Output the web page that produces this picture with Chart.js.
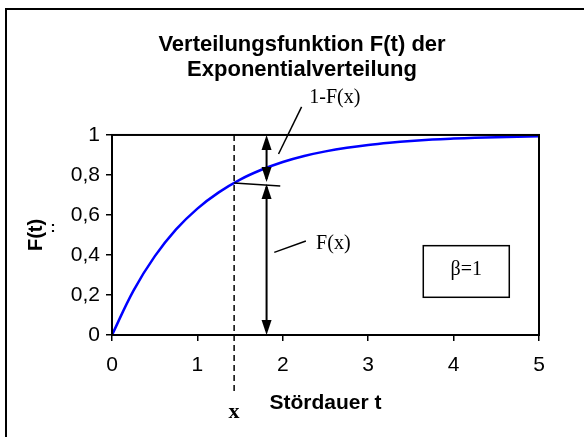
<!DOCTYPE html>
<html>
<head>
<meta charset="utf-8">
<script src="https://cdn.jsdelivr.net/npm/chart.js@4/dist/chart.umd.min.js"></script>
<style>
html,body{margin:0;padding:0;background:#fff;}
#wrap{width:584px;height:437px;}
</style>
</head>
<body>
<div id="wrap"><canvas id="c" width="584" height="437"></canvas></div>
<script>
// ---- data ----
const titleLines = ['Verteilungsfunktion F(t) der', 'Exponentialverteilung'];
const xAxisTitle = 'Stördauer t';
const yAxisTitle = 'F(t)';
const tValues = [0,0.25,0.5,0.75,1,1.25,1.5,1.75,2,2.25,2.5,2.75,3,3.25,3.5,3.75,4,4.25,4.5,4.75,5];
const fValues = [0,0.221,0.393,0.528,0.632,0.713,0.777,0.826,0.865,0.895,0.918,0.936,0.95,0.961,0.97,0.977,0.982,0.986,0.989,0.991,0.993];
const xTickLabels = ['0','1','2','3','4','5'];
const yTickLabels = ['0','0,2','0,4','0,6','0,8','1'];

// annotation values (data units)
const markX = 1.43;            // position "x"
const markF = 0.76;            // F(x)
const markLineBottom = -0.3;   // dashed line runs below the axis
const markLabelY = -0.385;
const arrowT = 1.81;           // double arrows
const tickEnd = [1.97, 0.745]; // short line from curve to the right
const upperLeader = [[2.22, 1.14], [1.95, 0.905]];
const upperLabel = {t: 2.31, f: 1.185, text: '1-F(x)'};
const lowerLeader = [[1.90, 0.413], [2.27, 0.47]];
const lowerLabel = {t: 2.39, f: 0.455, text: 'F(x)'};
const betaBox = {t0: 3.645, t1: 4.652, f0: 0.1885, f1: 0.4465, text: '\u03B2=1'};

const SANS = '"Liberation Sans", Arial, sans-serif';
const SERIF = '"Liberation Serif", "Times New Roman", serif';

function arrowHead(ctx, x, y, dir) {
  const len = 15, hw = 5;
  ctx.beginPath();
  ctx.moveTo(x, y);
  ctx.lineTo(x - hw, y - dir * len);
  ctx.lineTo(x + hw, y - dir * len);
  ctx.closePath();
  ctx.fill();
}

const annot = {
  id: 'annot',
  beforeDraw(chart) {
    const ctx = chart.ctx;
    ctx.save();
    ctx.fillStyle = '#fff';
    ctx.fillRect(0, 0, chart.width, chart.height);
    ctx.strokeStyle = '#000';
    ctx.lineWidth = 2;
    ctx.strokeRect(6, 9, chart.width + 20, chart.height + 20);
    ctx.restore();
  },
  afterDraw(chart) {
    const ctx = chart.ctx;
    const xs = chart.scales.x, ys = chart.scales.y;
    const X = v => xs.getPixelForValue(v), Y = v => ys.getPixelForValue(v);
    const a = chart.chartArea;
    ctx.save();
    ctx.strokeStyle = '#000';
    ctx.lineWidth = 2;
    ctx.strokeRect(a.left, a.top, a.right - a.left, a.bottom - a.top);

    ctx.lineWidth = 1.5;
    ctx.setLineDash([6, 4]);
    ctx.beginPath();
    ctx.moveTo(X(markX), Y(1));
    ctx.lineTo(X(markX), Y(markLineBottom));
    ctx.stroke();
    ctx.setLineDash([]);

    ctx.lineWidth = 1.5;
    ctx.beginPath();
    ctx.moveTo(X(markX), Y(markF));
    ctx.lineTo(X(tickEnd[0]), Y(tickEnd[1]));
    ctx.stroke();

    ctx.fillStyle = '#000';
    ctx.lineWidth = 2;
    const ax = X(arrowT);
    ctx.beginPath();
    ctx.moveTo(ax, Y(1) + 4); ctx.lineTo(ax, Y(markF) - 4);
    ctx.moveTo(ax, Y(markF) + 4); ctx.lineTo(ax, Y(0) - 4);
    ctx.stroke();
    arrowHead(ctx, ax, Y(1), -1);
    arrowHead(ctx, ax, Y(markF) - 1, 1);
    arrowHead(ctx, ax, Y(markF) + 1, -1);
    arrowHead(ctx, ax, Y(0), 1);

    ctx.lineWidth = 1.5;
    [upperLeader, lowerLeader].forEach(l => {
      ctx.beginPath();
      ctx.moveTo(X(l[0][0]), Y(l[0][1]));
      ctx.lineTo(X(l[1][0]), Y(l[1][1]));
      ctx.stroke();
    });

    ctx.font = '20px ' + SERIF;
    ctx.textBaseline = 'middle';
    ctx.textAlign = 'left';
    ctx.fillText(upperLabel.text, X(upperLabel.t), Y(upperLabel.f));
    ctx.fillText(lowerLabel.text, X(lowerLabel.t), Y(lowerLabel.f));

    ctx.lineWidth = 1.5;
    const bx0 = X(betaBox.t0), bx1 = X(betaBox.t1), by0 = Y(betaBox.f1), by1 = Y(betaBox.f0);
    ctx.strokeRect(bx0, by0, bx1 - bx0, by1 - by0);
    ctx.textAlign = 'center';
    ctx.fillText(betaBox.text, (bx0 + bx1) / 2, by0 + (by1 - by0) * 0.47);

    ctx.font = 'bold 22px ' + SERIF;
    ctx.fillText('x', X(markX), Y(markLabelY));

    ctx.font = 'bold 15px ' + SANS;
    ctx.fillText(':', 53, (a.top + a.bottom) / 2 - 7);
    ctx.restore();
  }
};

new Chart(document.getElementById('c'), {
  type: 'line',
  data: {
    labels: tValues,
    datasets: [{
      data: tValues.map((t, i) => ({x: t, y: fValues[i]})),
      borderColor: '#0000FF',
      borderWidth: 2.5,
      pointRadius: 0,
      tension: 0.4,
      fill: false
    }]
  },
  options: {
    responsive: false,
    animation: false,
    devicePixelRatio: 1,
    layout: {padding: {left: 20, right: 0, top: 0, bottom: 0}},
    plugins: {
      legend: {display: false},
      tooltip: {enabled: false},
      title: {
        display: true,
        text: titleLines,
        color: '#000',
        font: {family: SANS, size: 22, weight: 'bold', lineHeight: 1.14},
        padding: {top: 32, bottom: 52.8}
      }
    },
    scales: {
      x: {
        type: 'linear', min: 0, max: 5,
        afterFit(s) { s.height = 102; },
        ticks: {stepSize: 1, color: '#000', padding: 12, font: {family: SANS, size: 21},
                callback: (v) => xTickLabels[Math.round(v)]},
        grid: {display: true, drawOnChartArea: false, drawTicks: true, tickLength: 6, color: '#000', lineWidth: 1.5},
        border: {display: true, color: '#000', width: 2},
        title: {display: true, text: xAxisTitle, color: '#000', padding: {top: 0, bottom: 21},
                font: {family: SANS, size: 21, weight: 'bold'}}
      },
      y: {
        type: 'linear', min: 0, max: 1,
        afterFit(s) { s.width = 92; },
        ticks: {stepSize: 0.2, color: '#000', padding: 6, font: {family: SANS, size: 21},
                callback: (v) => yTickLabels[Math.round(v * 5)]},
        grid: {display: true, drawOnChartArea: false, drawTicks: true, tickLength: 6, color: '#000', lineWidth: 1.5},
        border: {display: true, color: '#000', width: 2},
        title: {display: true, text: yAxisTitle, color: '#000', padding: {top: 4, bottom: 0},
                font: {family: SANS, size: 20, weight: 'bold'}}
      },
      yR: {
        type: 'linear', position: 'right', display: true,
        afterFit(s) { s.width = 45; },
        ticks: {display: false},
        grid: {display: false},
        border: {display: false}
      }
    }
  },
  plugins: [annot]
});
</script>
</body>
</html>
